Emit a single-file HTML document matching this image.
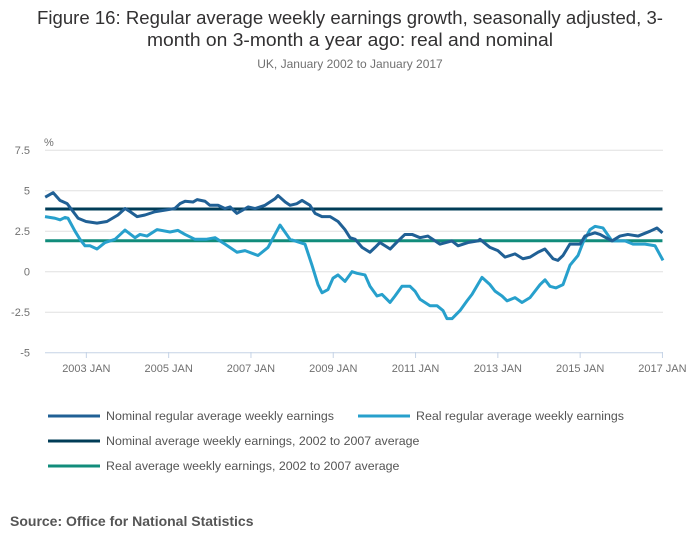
<!DOCTYPE html>
<html><head><meta charset="utf-8"><style>
body{margin:0;background:#fff;font-family:"Liberation Sans",sans-serif;}
svg text{font-family:"Liberation Sans",sans-serif;}
</style></head><body>
<svg width="700" height="549" xmlns="http://www.w3.org/2000/svg">
<text x="350" y="24" text-anchor="middle" font-size="18.5" fill="#323132" textLength="626" lengthAdjust="spacingAndGlyphs">Figure 16: Regular average weekly earnings growth, seasonally adjusted, 3-</text>
<text x="350" y="46" text-anchor="middle" font-size="18.5" fill="#323132" textLength="406" lengthAdjust="spacingAndGlyphs">month on 3-month a year ago: real and nominal</text>
<text x="350" y="68" text-anchor="middle" font-size="12" fill="#707070">UK, January 2002 to January 2017</text>
<text x="44" y="146" font-size="11" fill="#707070">%</text>
<g id="grid"></g><g id="xaxis"></g><g id="series"></g>
<g>
<line x1="48" y1="416" x2="100" y2="416" stroke="#206095" stroke-width="3"/>
<text x="106" y="420" font-size="12.4" fill="#555">Nominal regular average weekly earnings</text>
<line x1="358" y1="416" x2="410" y2="416" stroke="#27a0cc" stroke-width="3"/>
<text x="416" y="420" font-size="12.4" fill="#555">Real regular average weekly earnings</text>
<line x1="48" y1="441" x2="100" y2="441" stroke="#003c57" stroke-width="3"/>
<text x="106" y="445" font-size="12.4" fill="#555">Nominal average weekly earnings, 2002 to 2007 average</text>
<line x1="48" y1="466" x2="100" y2="466" stroke="#118c7b" stroke-width="3"/>
<text x="106" y="470" font-size="12.4" fill="#555">Real average weekly earnings, 2002 to 2007 average</text>
</g>
<text x="10" y="526" font-size="14" font-weight="bold" fill="#555">Source: Office for National Statistics</text>
</svg>
<script>
const yTicks=[7.5,5,2.5,0,-2.5,-5];
const yTickLabels=["7.5","5","2.5","0","-2.5","-5"];
const xTickMonths=[12,36,60,84,108,132,156,180];
const xTickLabels=["2003 JAN","2005 JAN","2007 JAN","2009 JAN","2011 JAN","2013 JAN","2015 JAN","2017 JAN"];
const nominalMonths=[0,2.3,4.3,6.4,9.6,11.9,15.1,18,21.2,23.3,24.8,26.8,29.1,32,34.9,37.8,39.3,40.8,43.1,44.3,46.6,48,50.4,52.4,53.9,55.9,59.2,61.2,64.1,67,67.9,70,71.4,73.4,74.9,77.2,78.7,80.7,83.1,85.4,87.4,88.9,90.4,92.4,94.7,96.2,97.6,99.1,100.6,102.9,104.9,107,109.3,111.6,113.7,115.1,118.6,120.4,123.3,126.2,126.8,129.7,132,134.1,137,139.3,141.4,143.7,145.7,148.1,149.5,151,153,156,157.4,160.3,161.8,165.3,167.6,169.9,172.9,176.4,178.4,180];
const nominalValues=[4.6,4.88,4.4,4.2,3.3,3.1,3.0,3.1,3.5,3.9,3.7,3.4,3.5,3.7,3.8,3.9,4.2,4.35,4.3,4.45,4.35,4.1,4.1,3.9,4.0,3.6,4.0,3.9,4.1,4.5,4.7,4.3,4.1,4.2,4.4,4.1,3.6,3.4,3.4,3.1,2.6,2.1,2.0,1.5,1.2,1.5,1.8,1.6,1.4,1.9,2.3,2.3,2.1,2.2,1.9,1.7,1.9,1.6,1.8,1.9,2.0,1.5,1.3,0.9,1.1,0.8,0.9,1.2,1.4,0.8,0.7,1.0,1.7,1.7,2.2,2.4,2.3,1.9,2.2,2.3,2.2,2.5,2.7,2.4];
const realX=[45,55,60,65,68,75,80,85,90,97,105,115,125,135,140,147,157,170,178,185,195,206,215,225,237,245,258,268,280,290,300,305,312,318,322,328,333,338,345,352,357,365,370,377,382,390,395,402,410,415,420,430,437,443,447,452,460,467,472,482,490,495,502,507,515,522,530,540,545,550,556,563,570,578,583,590,595,603,612,625,633,645,655,663];
const realValues=[3.4,3.3,3.2,3.35,3.3,2.5,2.0,1.6,1.6,1.4,1.8,2.0,2.57,2.1,2.3,2.2,2.6,2.45,2.55,2.3,2.0,2.0,2.1,1.7,1.2,1.3,1.0,1.5,2.88,2.0,1.8,1.7,0.4,-0.8,-1.3,-1.1,-0.4,-0.2,-0.6,0,-0.1,-0.2,-0.9,-1.5,-1.4,-1.9,-1.5,-0.9,-0.9,-1.2,-1.7,-2.1,-2.1,-2.4,-2.9,-2.9,-2.4,-1.8,-1.4,-0.35,-0.8,-1.2,-1.5,-1.8,-1.6,-1.9,-1.6,-0.8,-0.5,-0.9,-1.0,-0.8,0.4,1.0,1.8,2.6,2.8,2.7,1.9,1.9,1.7,1.7,1.6,0.7];
const nominalAverage=[3.87];
const realAverage=[1.91];
const realMonths=realX.map(x=>(x-45.2)*12/41.15);
const NS="http://www.w3.org/2000/svg";
const X=m=>45.2+m*41.15/12;
const Y=v=>271.7-v*16.2;
function mk(t,a,p){const e=document.createElementNS(NS,t);for(const k in a)e.setAttribute(k,a[k]);p.appendChild(e);return e;}
const grid=document.getElementById('grid');
yTicks.forEach((v,i)=>{
 const l=mk('line',{x1:45,x2:663,y1:Y(v),y2:Y(v),stroke:v===-5?'#c5d3e6':'#e0e0e0','stroke-width':1},grid);
 
 
 const t=mk('text',{x:30,y:Y(v)+4,'font-size':11,fill:'#707070','text-anchor':'end'},grid);
 t.textContent=yTickLabels[i];
 
 
});
const xa=document.getElementById('xaxis');
xTickMonths.forEach((m,i)=>{
 const l=mk('line',{x1:X(m),x2:X(m),y1:352,y2:358,stroke:'#c5d3e6'},xa);
 
 
 const t=mk('text',{x:X(m),y:372,'font-size':11,fill:'#707070','text-anchor':'middle'},xa);
 t.textContent=xTickLabels[i];
 
 
});
const s=document.getElementById('series');
function line(ms,vs,c,name){
 const p=mk('polyline',{points:ms.map((m,i)=>X(m)+','+Y(vs[i])).join(' '),fill:'none',stroke:c,'stroke-width':3,'stroke-linejoin':'round'},s);
 
 
}
line([0,180],[nominalAverage[0],nominalAverage[0]],'#003c57','nominal-average-line');
line([0,180],[realAverage[0],realAverage[0]],'#118c7b','real-average-line');
line(realMonths,realValues,'#27a0cc','real-earnings-line');
line(nominalMonths,nominalValues,'#206095','nominal-earnings-line');
</script>
</body></html>
